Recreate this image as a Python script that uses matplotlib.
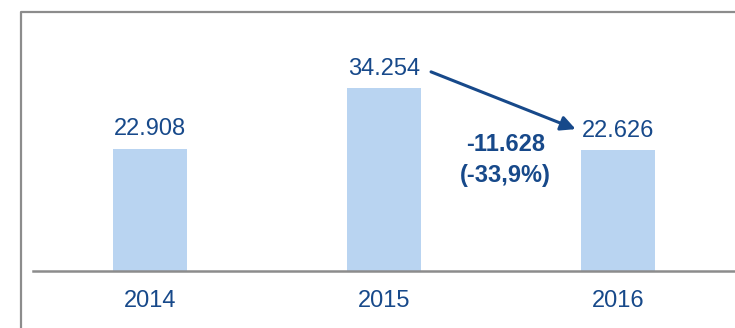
import matplotlib.pyplot as plt
from matplotlib.patches import FancyArrowPatch
from matplotlib.lines import Line2D

plt.rcParams['font.family'] = ['Liberation Sans', 'DejaVu Sans']

years = ['2014', '2015', '2016']
values = [22.908, 34.254, 22.626]
value_labels = ['22.908', '34.254', '22.626']
change_label = '-11.628\n(-33,9%)'

blue = '#17498A'
bar_color = '#B9D4F1'
frame_gray = '#8C8C8C'

fig = plt.figure(figsize=(7.35, 3.28), dpi=100)
ax = fig.add_axes([33 / 735, 57 / 328, 702 / 735, 260 / 328])

x = range(len(years))
ax.bar(x, values, width=74 / 234, color=bar_color, zorder=2)
ax.set_xlim(-0.5, 2.5)
ax.set_ylim(0, 260 / 5.33)

for xi, v, lab in zip(x, values, value_labels):
    ax.text(xi, v + 1.6, lab, ha='center', va='bottom', fontsize=17, color=blue)

ax.set_xticks(list(x))
ax.set_xticklabels(years, fontsize=17, color=blue)
ax.tick_params(axis='x', length=0, pad=13.5)
ax.set_yticks([])
for s in ['top', 'right', 'left']:
    ax.spines[s].set_visible(False)
ax.spines['bottom'].set_color(frame_gray)
ax.spines['bottom'].set_linewidth(1.8)

# arrow from the 2015 label down to the 2016 label
arrow = FancyArrowPatch((1.19, values[1] + 3.3), (1.83, values[2] + 3.8),
                        arrowstyle='-|>', mutation_scale=22, color=blue, lw=2.2)
ax.add_patch(arrow)
ax.text(1.52, 20.9, change_label, ha='center', va='center', fontsize=17,
        fontweight='bold', color=blue, linespacing=1.45)

# outer frame (top and left edges)
fig.add_artist(Line2D([20.5 / 735, 20.5 / 735, 1.0], [0, 1 - 11.5 / 328, 1 - 11.5 / 328],
                      transform=fig.transFigure, color=frame_gray, lw=1.6))

fig.savefig('out.png', dpi=100)
